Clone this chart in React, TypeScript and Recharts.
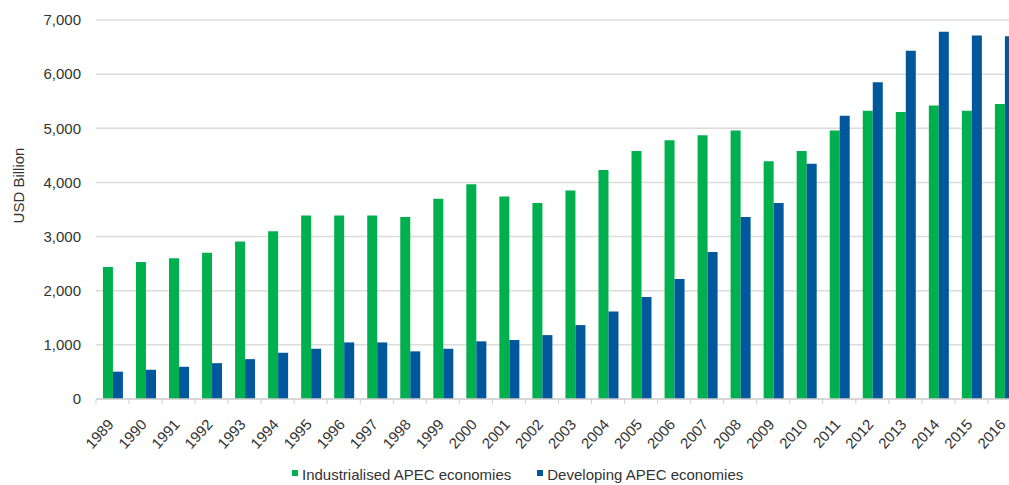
import React from 'react';
import { BarChart, Bar, XAxis, YAxis, CartesianGrid, Legend, Label } from 'recharts';

const years = ['1989','1990','1991','1992','1993','1994','1995','1996','1997','1998','1999','2000','2001','2002','2003','2004','2005','2006','2007','2008','2009','2010','2011','2012','2013','2014','2015','2016'];
const industrialised = [2440, 2530, 2600, 2700, 2910, 3100, 3390, 3390, 3390, 3360, 3700, 3965, 3740, 3620, 3850, 4230, 4580, 4780, 4870, 4960, 4390, 4580, 4960, 5325, 5300, 5420, 5325, 5450];
const developing = [505, 540, 595, 662, 736, 854, 928, 1045, 1045, 880, 928, 1065, 1090, 1180, 1365, 1618, 1884, 2216, 2715, 3360, 3620, 4346, 5233, 5848, 6433, 6784, 6716, 6698];
const yTicks = [0, 1000, 2000, 3000, 4000, 5000, 6000, 7000];
const seriesNames = ['Industrialised APEC economies', 'Developing APEC economies'];

const GREEN = '#00b04f';
const BLUE = '#00579c';
const FONT = '"Liberation Sans", Arial, Helvetica, sans-serif';
const TEXT = '#333333';

const data = years.map((y, i) => ({ year: y, ind: industrialised[i], dev: developing[i] }));

const XTick = (props: any) => {
  const { x, y, payload } = props;
  const half = payload && typeof payload.offset === 'number' ? payload.offset : 16.5;
  const axisY = y - 5;
  const ax = x + 2;
  const ay = y + 21;
  return (
    <g>
      <line x1={x - half} y1={axisY} x2={x - half} y2={axisY + 5} stroke="#d0d0d0" strokeWidth={1} />
      <text
        x={ax}
        y={ay}
        textAnchor="end"
        transform={`rotate(-48, ${ax}, ${ay})`}
        fontSize={15}
        fontFamily={FONT}
        fill={TEXT}
      >
        {payload.value}
      </text>
    </g>
  );
};

const LegendContent = (props: any) => {
  const items = [...(props.payload || [])].sort(
    (a: any, b: any) => seriesNames.indexOf(a.value) - seriesNames.indexOf(b.value)
  );
  return (
    <div style={{ display: 'flex', alignItems: 'flex-start', fontFamily: FONT, fontSize: 15, color: TEXT, whiteSpace: 'nowrap' }}>
      {items.map((it: any, i: number) => (
        <div key={i} style={{ display: 'flex', alignItems: 'flex-start', marginRight: i === 0 ? 26 : 0 }}>
          <span style={{ display: 'inline-block', width: 6, height: 6, background: it.color, marginTop: 4, marginRight: 4 }} />
          <span style={{ lineHeight: '17px' }}>{it.value}</span>
        </div>
      ))}
    </div>
  );
};

export default function App() {
  return (
    <div style={{ position: 'fixed', top: 8, left: 8, width: 1001, height: 477, overflow: 'hidden', background: '#fff' }}>
      <BarChart
        width={1030}
        height={477}
        data={data}
        margin={{ top: 12, right: 17, left: 0, bottom: 26 }}
        barCategoryGap="21%"
        barGap={0}
      >
        <CartesianGrid vertical={false} stroke="#dcdcdc" strokeWidth={1.5} />
        <XAxis
          dataKey="year"
          interval={0}
          height={60}
          tickSize={5}
          tickMargin={0}
          tickLine={false}
          axisLine={{ stroke: '#d0d0d0', strokeWidth: 1.5 }}
          tick={<XTick />}
        />
        <YAxis
          width={88}
          domain={[0, 7000]}
          ticks={yTicks}
          interval={0}
          axisLine={false}
          tickLine={false}
          tickMargin={9}
          tickFormatter={(v: number) => v.toLocaleString('en-US')}
          tick={{ fontSize: 15, fontFamily: FONT, fill: TEXT }}
        >
          <Label
            content={(p: any) => {
              const vb = p.viewBox || { x: 0, y: 12, width: 88, height: 379 };
              const cx = vb.x + 10;
              const cy = vb.y + vb.height / 2 - 24;
              return (
                <text
                  x={cx}
                  y={cy}
                  textAnchor="middle"
                  dominantBaseline="central"
                  transform={`rotate(-90, ${cx}, ${cy})`}
                  fontSize={15}
                  fontFamily={FONT}
                  fill={TEXT}
                >
                  USD Billion
                </text>
              );
            }}
          />
        </YAxis>
        <Legend
          layout="horizontal"
          verticalAlign="middle"
          align="center"
          itemSorter={null as any}
          wrapperStyle={{ top: 458, left: 284, width: 'auto', height: 'auto' }}
          content={<LegendContent />}
        />
        <Bar dataKey="ind" name={seriesNames[0]} fill={GREEN} isAnimationActive={false} />
        <Bar dataKey="dev" name={seriesNames[1]} fill={BLUE} isAnimationActive={false} />
      </BarChart>
    </div>
  );
}
